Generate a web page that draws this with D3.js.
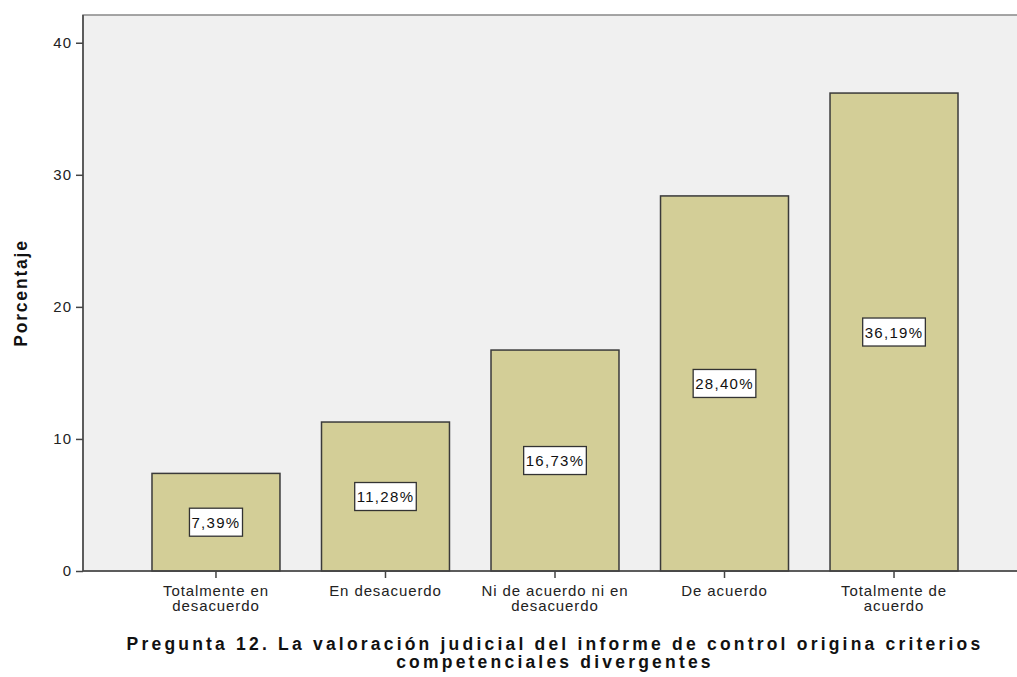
<!DOCTYPE html>
<html><head><meta charset="utf-8">
<script src="https://cdn.jsdelivr.net/npm/d3@7"></script>
<style>body{margin:0;background:#fff}svg{display:block}</style>
</head><body>
<svg id="c" width="1017" height="677"></svg>
<script>
const categories = [["Totalmente en","desacuerdo"],["En desacuerdo"],["Ni de acuerdo ni en","desacuerdo"],["De acuerdo"],["Totalmente de","acuerdo"]];
const values = [7.39, 11.28, 16.73, 28.40, 36.19];
const valueLabels = ["7,39%","11,28%","16,73%","28,40%","36,19%"];
const yTicks = [0,10,20,30,40];
const yTitle = "Porcentaje";
const titleLines = ["Pregunta 12. La valoración judicial del informe de control origina criterios","competenciales divergentes"];

const svg = d3.select("#c");
const L = 83, T = 15, R = 1027, B = 571;
const font = "Arial, 'Liberation Sans', sans-serif";
const y = d3.scaleLinear().domain([0, 42.1]).range([B, T]);
const x = d3.scaleBand().domain(d3.range(values.length)).range([L, R]).paddingInner(0.245).paddingOuter(0.407);

svg.append("rect").attr("x", L).attr("y", T).attr("width", R - L).attr("height", B - T)
  .attr("fill", "#f0f0f0").attr("stroke", "#888").attr("stroke-width", 1.5);

svg.selectAll(".bar").data(values).join("rect")
  .attr("x", (d,i) => x(i)).attr("y", d => y(d))
  .attr("width", x.bandwidth()).attr("height", d => B - y(d))
  .attr("fill", "#d3ce97").attr("stroke", "#3a3a3a").attr("stroke-width", 1.5);

svg.append("line").attr("x1", L).attr("x2", L).attr("y1", T).attr("y2", B).attr("stroke", "#444").attr("stroke-width", 1.5);
svg.append("line").attr("x1", L).attr("x2", R).attr("y1", B).attr("y2", B).attr("stroke", "#444").attr("stroke-width", 1.5);

const yAxis = d3.axisLeft(y).tickValues(yTicks).tickSize(7).tickPadding(4).tickFormat(d3.format("d"));
const ga = svg.append("g").attr("transform", `translate(${L},0)`).call(yAxis);
ga.select(".domain").remove();
ga.selectAll("line").attr("stroke", "#444").attr("stroke-width", 1.5);
ga.selectAll("text").attr("font-family", font).attr("font-size", 15).attr("letter-spacing", 1).attr("fill", "#222");

const xAxis = d3.axisBottom(x).tickSize(7).tickFormat("");
const gx = svg.append("g").attr("transform", `translate(0,${B})`).call(xAxis);
gx.select(".domain").remove();
gx.selectAll("line").attr("stroke", "#444").attr("stroke-width", 1.5);

categories.forEach((lines, i) => {
  const t = svg.append("text").attr("text-anchor", "middle").attr("font-family", font).attr("font-size", 15)
    .attr("letter-spacing", 0.9).attr("fill", "#222");
  lines.forEach((ln, j) => t.append("tspan").attr("x", x(i) + x.bandwidth()/2).attr("y", 596 + j*15).text(ln));
});

values.forEach((v, i) => {
  const cx = x(i) + x.bandwidth()/2, cy = (y(v) + B) / 2;
  const g = svg.append("g");
  const t = g.append("text").attr("x", cx).attr("y", cy + 5.5).attr("text-anchor", "middle")
    .attr("font-family", font).attr("font-size", 15).attr("letter-spacing", 1.3).attr("fill", "#111").text(valueLabels[i]);
  const bb = t.node().getBBox();
  g.insert("rect", "text").attr("x", cx - (bb.width + 4)/2).attr("y", cy - 14).attr("width", bb.width + 4).attr("height", 28)
    .attr("fill", "#fff").attr("stroke", "#333").attr("stroke-width", 1.3);
});

svg.append("text").attr("transform", `translate(27,${293}) rotate(-90)`).attr("text-anchor", "middle")
  .attr("font-family", font).attr("font-size", 17.5).attr("font-weight", "bold").attr("letter-spacing", 1.8).attr("fill", "#111").text(yTitle);

titleLines.forEach((ln, j) => {
  svg.append("text").attr("x", 555).attr("y", 650 + j*18).attr("text-anchor", "middle")
    .attr("font-family", font).attr("font-size", 17.5).attr("font-weight", "bold").attr("letter-spacing", 3.2).attr("fill", "#111").text(ln);
});
</script>
</body></html>
